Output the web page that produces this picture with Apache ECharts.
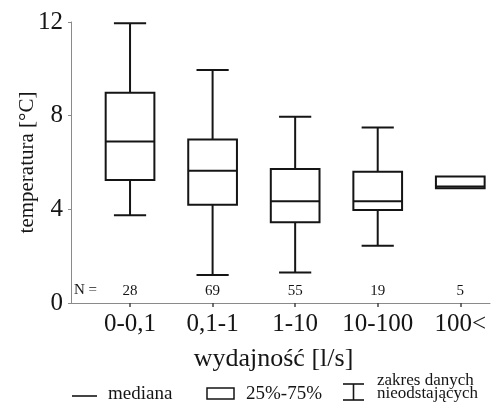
<!DOCTYPE html>
<html lang="pl">
<head>
  <meta charset="UTF-8">
  <title>temperatura / wydajność</title>
  <script src="https://cdn.jsdelivr.net/npm/echarts@6/dist/echarts.min.js"></script>
  <style>
    html, body { margin: 0; padding: 0; background: #fff; }
  </style>
</head>
<body>
  <div id="chart" style="width: 497px;height: 407px;"></div>

  <script type="text/javascript">
    const categories = ['0-0,1', '0,1-1', '1-10', '10-100', '100<'];
    // min, 25%, mediana, 75%, max
    const whiskerLow = [3.75, 1.2, 1.3, 2.45, 4.9];
    const q1 = [5.25, 4.2, 3.45, 3.97, 4.9];
    const median = [6.9, 5.65, 4.35, 4.35, 4.97];
    const q3 = [8.98, 6.98, 5.72, 5.6, 5.4];
    const whiskerHigh = [11.95, 9.95, 7.95, 7.5, 5.4];
    const counts = [28, 69, 55, 19, 5];
    const yTicks = [0, 4, 8, 12];

    const serif = '"Liberation Serif", "DejaVu Serif", serif';
    const ink = '#151515';
    const axisGray = '#8a8a8a';

    const boxData = categories.map((c, i) => [i, whiskerLow[i], q1[i], median[i], q3[i], whiskerHigh[i]]);
    const countData = counts.map((n, i) => [i, 0, n]);

    const myChart = echarts.init(document.getElementById('chart'));

    function renderBox(params, api) {
      const x = api.value(0);
      const lo = api.coord([x, api.value(1)]);
      const b1 = api.coord([x, api.value(2)]);
      const md = api.coord([x, api.value(3)]);
      const b3 = api.coord([x, api.value(4)]);
      const hi = api.coord([x, api.value(5)]);
      const band = api.size([1, 0])[0];
      const half = band * 0.295;
      const cap = band * 0.195;
      const cx = lo[0];
      const style = { stroke: ink, lineWidth: 2, fill: null };
      const children = [
        { type: 'rect', shape: { x: cx - half, y: b3[1], width: half * 2, height: b1[1] - b3[1] }, style: { stroke: ink, lineWidth: 2, fill: '#fff' } },
        { type: 'line', shape: { x1: cx - half, y1: md[1], x2: cx + half, y2: md[1] }, style },
      ];
      if (hi[1] < b3[1] - 1) {
        children.push({ type: 'line', shape: { x1: cx, y1: b3[1], x2: cx, y2: hi[1] }, style });
        children.push({ type: 'line', shape: { x1: cx - cap, y1: hi[1], x2: cx + cap, y2: hi[1] }, style });
      }
      if (lo[1] > b1[1] + 1) {
        children.push({ type: 'line', shape: { x1: cx, y1: b1[1], x2: cx, y2: lo[1] }, style });
        children.push({ type: 'line', shape: { x1: cx - cap, y1: lo[1], x2: cx + cap, y2: lo[1] }, style });
      }
      return { type: 'group', children };
    }

    function renderCount(params, api) {
      const p = api.coord([api.value(0), api.value(1)]);
      return {
        type: 'text',
        x: p[0],
        y: p[1] - 12,
        style: { text: String(api.value(2)), font: '15px ' + serif, fill: ink, align: 'center', verticalAlign: 'middle' },
      };
    }

    const option = {
      animation: false,
      grid: { left: 71, right: 7, top: 22, bottom: 104, outerBoundsMode: 'none' },
      xAxis: {
        type: 'value',
        min: -0.715,
        max: 4.36,
        name: 'wydajność [l/s]',
        nameLocation: 'middle',
        nameGap: 43,
        nameMoveOverlap: false,
        nameTextStyle: { fontFamily: serif, fontSize: 26, color: ink, padding: [0, 14, 0, 0] },
        axisLine: { show: true, onZero: false, lineStyle: { color: axisGray, width: 1 } },
        axisTick: { show: true, length: 4, customValues: [0, 1, 2, 3, 4], lineStyle: { color: '#444', width: 1.5 } },
        axisLabel: {
          customValues: [0, 1, 2, 3, 4],
          formatter: v => categories[Math.round(v)],
          fontFamily: serif, fontSize: 25, color: ink, margin: 9,
        },
        splitLine: { show: false },
      },
      yAxis: {
        type: 'value',
        min: yTicks[0],
        max: yTicks[yTicks.length - 1],
        interval: 4,
        name: 'temperatura [°C]',
        nameLocation: 'middle',
        nameGap: 33,
        nameMoveOverlap: false,
        nameTextStyle: { fontFamily: serif, fontSize: 21, color: ink },
        axisLine: { show: true, onZero: false, lineStyle: { color: axisGray, width: 1 } },
        axisTick: { show: true, length: 3, lineStyle: { color: axisGray } },
        axisLabel: { fontFamily: serif, fontSize: 25, color: ink, margin: 8 },
        splitLine: { show: false },
      },
      series: [
        { type: 'custom', renderItem: renderBox, data: boxData, encode: { x: 0, y: [1, 2, 3, 4, 5] }, z: 3 },
        { type: 'custom', renderItem: renderCount, data: countData, encode: { x: 0, y: 1 }, z: 3 },
      ],
      graphic: [
        { type: 'text', left: 74, top: 283, style: { text: 'N =', font: '15px ' + serif, fill: ink } },
        // legend
        { type: 'line', shape: { x1: 72, y1: 396, x2: 97, y2: 396 }, style: { stroke: ink, lineWidth: 1.6 } },
        { type: 'text', left: 108, top: 385, style: { text: 'mediana', font: '19px ' + serif, fill: ink } },
        { type: 'rect', shape: { x: 207, y: 388, width: 27, height: 11 }, style: { stroke: ink, lineWidth: 1.5, fill: '#fff' } },
        { type: 'text', left: 246, top: 385, style: { text: '25%-75%', font: '19px ' + serif, fill: ink } },
        { type: 'line', shape: { x1: 343, y1: 384, x2: 364, y2: 384 }, style: { stroke: ink, lineWidth: 1.6 } },
        { type: 'line', shape: { x1: 353.5, y1: 384, x2: 353.5, y2: 400 }, style: { stroke: ink, lineWidth: 1.6 } },
        { type: 'line', shape: { x1: 343, y1: 400, x2: 364, y2: 400 }, style: { stroke: ink, lineWidth: 1.6 } },
        { type: 'text', left: 377, top: 372, style: { text: 'zakres danych', font: '17px ' + serif, fill: ink } },
        { type: 'text', left: 377, top: 385, style: { text: 'nieodstających', font: '17px ' + serif, fill: ink } },
      ],
    };
    myChart.setOption(option);
  </script>
</body>
</html>
